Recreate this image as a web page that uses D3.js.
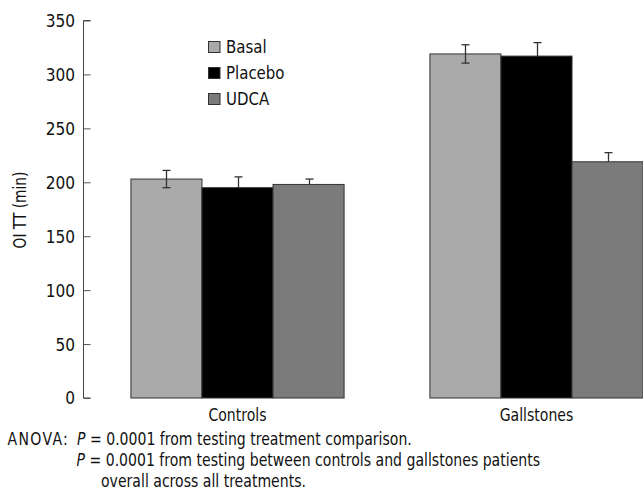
<!DOCTYPE html>
<html>
<head>
<meta charset="utf-8">
<script src="https://cdn.jsdelivr.net/npm/d3@7/dist/d3.min.js"></script>
<style>
  html, body { margin: 0; padding: 0; background: #fff; }
  svg { display: block; }
  text { font-family: "DejaVu Sans Condensed", "DejaVu Sans", sans-serif; fill: #111; }
</style>
</head>
<body>
<svg id="chart" width="643" height="504"></svg>
<script>
// Oxidation induction time (OI TT) by group and treatment
const groups = ["Controls", "Gallstones"];
const treatments = ["Basal", "Placebo", "UDCA"];
const colors = ["#a9aaa9", "#000000", "#7b7b7b"];
const basalValues = [203, 319];
const placeboValues = [195, 317];
const udcaValues = [198, 219];
const basalErrors = [8, 8.5];
const placeboErrors = [10, 12.5];
const udcaErrors = [5, 8.5];
const yTicks = [0, 50, 100, 150, 200, 250, 300, 350];
const notes = [
  { pre: "ANOVA:", rest: " = 0.0001 from testing treatment comparison." },
  { pre: "", rest: " = 0.0001 from testing between controls and gallstones patients" },
  { pre: "", rest: "overall across all treatments.", noP: true }
];

const seriesValues = [basalValues, placeboValues, udcaValues];
const seriesErrors = [basalErrors, placeboErrors, udcaErrors];

const svg = d3.select("#chart");

// Text is set in a slightly narrowed face
function label(parent, x, y, size, sx, anchor) {
  return parent.append("text")
    .attr("transform", `translate(${x},${y}) scale(${sx},1)`)
    .attr("font-size", size)
    .attr("text-anchor", anchor || "start");
}

const y = d3.scaleLinear().domain([0, 350]).range([398, 20.5]);
const x0 = d3.scaleBand().domain(groups).range([88, 686])
  .paddingInner(0.287).paddingOuter(0.1435);
const x1 = d3.scaleBand().domain(treatments).range([0, x0.bandwidth()]);

const rows = [];
groups.forEach((g, gi) => {
  treatments.forEach((t, ti) => {
    rows.push({ g, t, ti, v: seriesValues[ti][gi], e: seriesErrors[ti][gi] });
  });
});

// Bars
svg.append("g").selectAll("rect").data(rows).join("rect")
  .attr("x", d => x0(d.g) + x1(d.t))
  .attr("y", d => y(d.v))
  .attr("width", x1.bandwidth())
  .attr("height", d => y(0) - y(d.v))
  .attr("fill", d => colors[d.ti])
  .attr("stroke", "#333")
  .attr("stroke-width", 1);

// Error bars: the lower whisker is only visible on the lightest bars
const err = svg.append("g").attr("stroke", "#333").attr("stroke-width", 1.3);
rows.forEach(d => {
  const cx = Math.round(x0(d.g) + x1(d.t) + x1.bandwidth() / 2) + 0.5;
  const top = y(d.v + d.e), bot = y(d.v - d.e);
  const lower = d.ti === 0;
  err.append("line").attr("x1", cx).attr("x2", cx).attr("y1", top).attr("y2", lower ? bot : y(d.v));
  err.append("line").attr("x1", cx - 4).attr("x2", cx + 4).attr("y1", top).attr("y2", top);
  if (lower) err.append("line").attr("x1", cx - 4).attr("x2", cx + 4).attr("y1", bot).attr("y2", bot);
});

// Y axis with inward ticks
const yAxis = svg.append("g").attr("transform", "translate(83.5,0)")
  .call(d3.axisRight(y).tickValues(yTicks).tickSize(7).tickFormat(""));
yAxis.select(".domain").attr("stroke", "#444").attr("d", `M7,${y(350)}H0V${y(0)}H7`);
yAxis.selectAll(".tick line").attr("stroke", "#555");
const tickLabels = svg.append("g");
yTicks.forEach(v => {
  label(tickLabels, 75, y(v), 18, 0.95, "end").attr("dy", "0.36em").text(v);
});

// Y axis title
svg.append("text")
  .attr("transform", `translate(26,210) rotate(-90) scale(0.9,1)`)
  .attr("text-anchor", "middle").attr("font-size", 17)
  .text("OI TT (min)");

// Group labels
const groupLabels = svg.append("g");
groups.forEach(g => {
  label(groupLabels, x0(g) + x0.bandwidth() / 2, 421, 17, 0.92, "middle").text(g);
});

// Legend
const legend = svg.append("g");
treatments.forEach((t, i) => {
  const ly = 47 + i * 26;
  legend.append("rect").attr("x", 208.5).attr("y", ly - 5.5).attr("width", 11.5).attr("height", 11)
    .attr("fill", colors[i]).attr("stroke", "#333").attr("stroke-width", 1);
  label(legend, 226, ly, 17, 0.98).attr("dy", "0.36em").text(t);
});

// Statistical notes; the italic P of the first two lines sits in one column
const noteX = [7.5, 76.5, 101];
const noteY = [445, 466, 487];
const noteSx = 0.92;
notes.forEach((n, i) => {
  const t = label(svg, noteX[i], noteY[i], 17, noteSx);
  if (n.noP) {
    t.text(n.rest);
  } else {
    if (n.pre) t.append("tspan").attr("letter-spacing", 1.45).text(n.pre);
    const p = t.append("tspan").attr("font-style", "italic").text("P");
    if (n.pre) p.attr("x", (77 - noteX[i]) / noteSx);
    t.append("tspan").text(n.rest);
  }
});
</script>
</body>
</html>
